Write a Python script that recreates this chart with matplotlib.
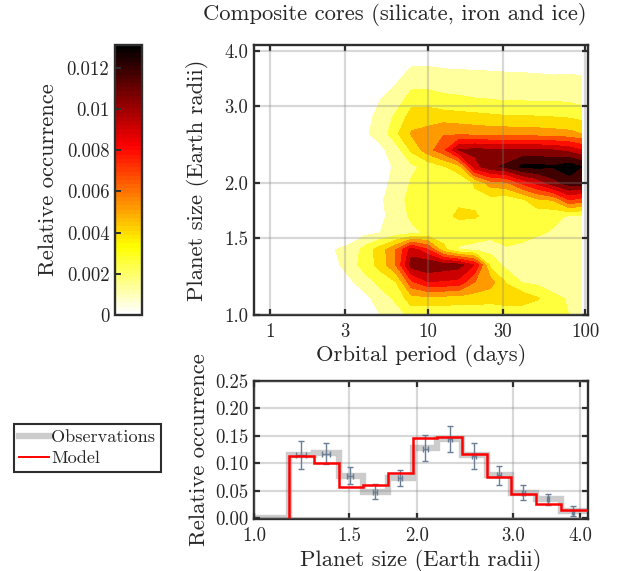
import matplotlib
matplotlib.use("Agg")
import matplotlib.pyplot as plt
import numpy as np
from matplotlib.colors import LinearSegmentedColormap, Normalize
from matplotlib.cm import ScalarMappable

plt.rcParams['font.family'] = ['cmr10', 'DejaVu Serif']
plt.rcParams['axes.formatter.use_mathtext'] = True

W, H = 617, 571
FRAME = '#2e2e2e'
TEXT = '#262626'

# contour map values, in tenths of the colour scale (0.00131 per unit)
periods = [2.5, 3.2, 4.0, 5.0, 6.3, 7.9, 10.0, 12.6, 15.8, 20.0, 25.1, 31.6, 39.8, 50.1, 63.1, 79.4, 95.5]
radii = [1.0, 1.09, 1.19, 1.30, 1.41, 1.54, 1.68, 1.83, 2.0, 2.18, 2.38, 2.59, 2.83, 3.08, 3.36, 3.67, 4.0]
occurrence = [
    [0, 0, .2, 1.0, 1.5, 2.3, 2.3, 2.3, 2.2, 2.2, 2.1, 2.1, 2.0, 1.9, 2.2, 2.0, 1.2],
    [0, .2, .7, 1.5, 2.2, 3.6, 3.6, 3.5, 3.5, 3.5, 3.4, 3.7, 3.7, 3.1, 2.2, 1.9, 1.3],
    [.2, .8, 1.6, 2.3, 3.0, 5.8, 6.95, 6.9, 6.7, 5.0, 4.4, 2.9, 1.9, 1.7, 1.6, 1.5, 1.4],
    [.6, 1.6, 2.4, 3.4, 5.0, 8.5, 8.9, 8.6, 8.4, 6.9, 2.7, 1.7, 1.5, 1.35, 1.4, 1.3, 1.4],
    [.95, 1.3, 2.4, 3.5, 5.0, 7.5, 6.1, 3.3, 1.95, 1.8, 1.7, 1.95, 1.85, 1.6, 1.5, 1.5, 1.5],
    [0, .3, .7, 1.0, 1.4, 1.7, 2.2, 2.4, 2.2, 2.3, 2.2, 2.2, 2.2, 2.1, 1.9, 1.7, 1.6],
    [0, 0, 0, .8, 1.4, 2.2, 2.8, 2.7, 3.2, 3.1, 2.6, 2.3, 2.3, 2.3, 2.2, 1.9, 1.8],
    [0, 0, 0, .9, 1.4, 2.5, 2.7, 2.7, 2.8, 2.8, 2.6, 2.4, 2.8, 3.8, 4.1, 6.0, 5.5],
    [0, 0, 0, .7, 1.3, 2.1, 2.4, 2.3, 2.2, 3.1, 4.5, 4.8, 6.2, 7.3, 8.6, 9.5, 9.5],
    [0, 0, 0, .5, 1.2, 1.8, 2.3, 2.9, 3.6, 7.6, 8.8, 9.2, 10.2, 10.3, 10.1, 10.6, 10.0],
    [0, 0, .3, .8, 1.5, 3.2, 4.6, 5.7, 8.0, 8.3, 8.1, 8.1, 8.1, 8.1, 8.0, 7.6, 7.0],
    [0, 0, .9, 1.3, 2.8, 4.1, 4.3, 4.9, 4.8, 4.7, 4.6, 4.6, 4.5, 4.5, 4.4, 4.3, 4.0],
    [0, 0, .6, 1.4, 2.2, 3.5, 3.6, 3.5, 3.4, 3.3, 3.2, 3.1, 3.1, 3.05, 3.0, 2.9, 2.7],
    [0, 0, 0, 1.0, 1.5, 2.6, 2.6, 2.3, 2.2, 2.1, 2.05, 2.0, 2.0, 1.95, 1.95, 1.9, 1.7],
    [0, 0, 0, .4, 1.0, 1.7, 1.7, 1.6, 1.6, 1.5, 1.5, 1.5, 1.45, 1.4, 1.35, 1.4, 1.3],
    [0, 0, 0, 0, .3, 1.05, 1.05, .95, .9, .9, .85, .8, .8, .75, .7, .7, .7],
    [0] * 17,
]
level_units = [0, 1, 2, 3, 4, 5, 6, 7, 8, 9, 10, 11]
unit = 0.00131
scale_max = 0.0131

period_ticks = [1, 3, 10, 30, 100]
radius_ticks = [1.0, 1.5, 2.0, 3.0, 4.0]
cbar_ticks = [0, 0.002, 0.004, 0.006, 0.008, 0.01, 0.012]
cbar_labels = ['0', '0.002', '0.004', '0.006', '0.008', '0.01', '0.012']
occ_ticks = [0.0, 0.05, 0.10, 0.15, 0.20, 0.25]

# histogram by planet size, the last bin runs past the right edge of the axes
bin_edges = [1.0, 1.161, 1.289, 1.432, 1.587, 1.764, 1.963, 2.179, 2.422, 2.685, 2.984, 3.312, 3.68, 4.2]
observed = [0.0, .115, .119, .078, .048, .074, .128, .145, .115, .079, .047, .036, .013]
# the model has nothing in the first bin
model = [.113, .101, .057, .061, .083, .146, .148, .118, .076, .045, .027, .016]

err_x = [1.221, 1.359, 1.504, 1.670, 1.859, 2.069, 2.296, 2.549, 2.832, 3.139, 3.484, 3.873]
err_xw = [.028, .023, .017, .014, .015, .023, .021, .021, .024, .017, .017, .016]
err_y = [.115, .118, .078, .048, .074, .127, .145, .114, .079, .047, .036, .012]
err_lo = [.090, .099, .062, .035, .059, .104, .121, .090, .060, .033, .025, .005]
err_hi = [.141, .137, .094, .062, .089, .151, .168, .137, .096, .060, .045, .022]

hot_rev = LinearSegmentedColormap.from_list(
    'hot_rev', [(0, 'white'), (0.25, '#ffff00'), (0.625, '#ff0000'), (1, 'black')], N=64)


def add_axes_px(fig, left, top, right, bottom):
    return fig.add_axes([left / W, 1 - bottom / H, (right - left) / W, (bottom - top) / H])


def style_axes(ax):
    for spine in ax.spines.values():
        spine.set_color(FRAME)
        spine.set_linewidth(1.7)
    ax.tick_params(which='both', direction='in', top=True, right=True, length=4, width=1.6,
                   color=FRAME, labelcolor=TEXT, labelsize=13.5)
    ax.tick_params(axis='x', pad=6)
    ax.tick_params(axis='y', pad=4)
    ax.minorticks_off()
    ax.grid(True, color='#808080', alpha=0.3, linewidth=1.6)
    ax.set_axisbelow(False)


fig = plt.figure(figsize=(W / 100, H / 100), dpi=100)

# main contour map
ax = add_axes_px(fig, 254, 45, 588, 315)
levels = np.array(level_units) * unit
band_colors = [hot_rev(min(v / scale_max, 1.0)) for v in levels[:-1]]
ax.contourf(periods, radii, np.array(occurrence) * unit, levels=levels, colors=band_colors)
ax.set_xscale('log')
ax.set_yscale('log', base=2)
ax.set_xlim(0.791, 104.5)
ax.set_ylim(1.0, 4.13)
ax.set_xticks(period_ticks)
ax.set_xticklabels([str(p) for p in period_ticks])
ax.set_yticks(radius_ticks)
ax.set_yticklabels([f'{r:.1f}' for r in radius_ticks])
style_axes(ax)
ax.set_xlabel('Orbital period (days)', fontsize=16.3, color=TEXT, labelpad=2)
ax.set_ylabel('Planet size (Earth radii)', fontsize=16.3, color=TEXT)
ax.yaxis.set_label_coords(-0.135, 0.5)
fig.text(395 / W, 1 - 14 / H, 'Composite cores (silicate, iron and ice)', fontsize=16.3,
         color=TEXT, ha='center', va='center')

# colour bar
cax = add_axes_px(fig, 115, 45, 142, 315)
cb = fig.colorbar(ScalarMappable(Normalize(0, scale_max), hot_rev), cax=cax)
cb.set_ticks(cbar_ticks)
cb.set_ticklabels(cbar_labels)
cax.yaxis.set_ticks_position('left')
cax.yaxis.set_label_position('left')
cax.tick_params(direction='in', length=4, width=1.4, color=FRAME, labelcolor=TEXT, labelsize=13.5, pad=4)
cb.outline.set_edgecolor(FRAME)
cb.outline.set_linewidth(1.7)
cb.set_label('Relative occurrence', fontsize=16.3, color=TEXT)
cax.yaxis.set_label_coords(-2.1, 0.5)
cax.minorticks_off()

# lower histogram
ax2 = add_axes_px(fig, 254, 381, 588, 519)
ax2.stairs(observed, bin_edges, color='#cccccc', linewidth=4.6, baseline=None)
obs_handle = plt.Line2D([], [], color='#cccccc', linewidth=4.6, label='Observations')
ax2.errorbar(err_x, err_y, xerr=err_xw, yerr=[np.array(err_y) - np.array(err_lo), np.array(err_hi) - np.array(err_y)],
             fmt='none', ecolor='#6a7f95', elinewidth=1.0, capsize=2.5, capthick=1.0, zorder=3)
ax2.stairs(model, bin_edges[1:], color='#ff0000', linewidth=1.8, baseline=0, zorder=4)
model_handle = plt.Line2D([], [], color='#ff0000', linewidth=1.4, label='Model')
ax2.set_xscale('log', base=2)
ax2.set_xlim(1.0, 4.13)
ax2.set_ylim(-0.001, 0.25)
ax2.set_xticks(radius_ticks)
ax2.set_xticklabels([f'{r:.1f}' for r in radius_ticks])
ax2.set_yticks(occ_ticks)
ax2.set_yticklabels([f'{v:.2f}' for v in occ_ticks])
style_axes(ax2)
ax2.set_xlabel('Planet size (Earth radii)', fontsize=16.3, color=TEXT, labelpad=3)
ax2.set_ylabel('Relative occurrence', fontsize=16.3, color=TEXT)
ax2.yaxis.set_label_coords(-0.135, 0.5)

leg = fig.legend(handles=[obs_handle, model_handle], loc='upper left',
                 bbox_to_anchor=(14 / W, 1 - 424 / H), bbox_transform=fig.transFigure,
                 fontsize=13.1, fancybox=False, framealpha=1, edgecolor=FRAME, borderaxespad=0,
                 borderpad=0.3, handlelength=1.6, handletextpad=0.15, labelspacing=0.3,
                 labelcolor=TEXT)
leg.get_frame().set_linewidth(1.5)

fig.savefig('out.png', dpi=100)
